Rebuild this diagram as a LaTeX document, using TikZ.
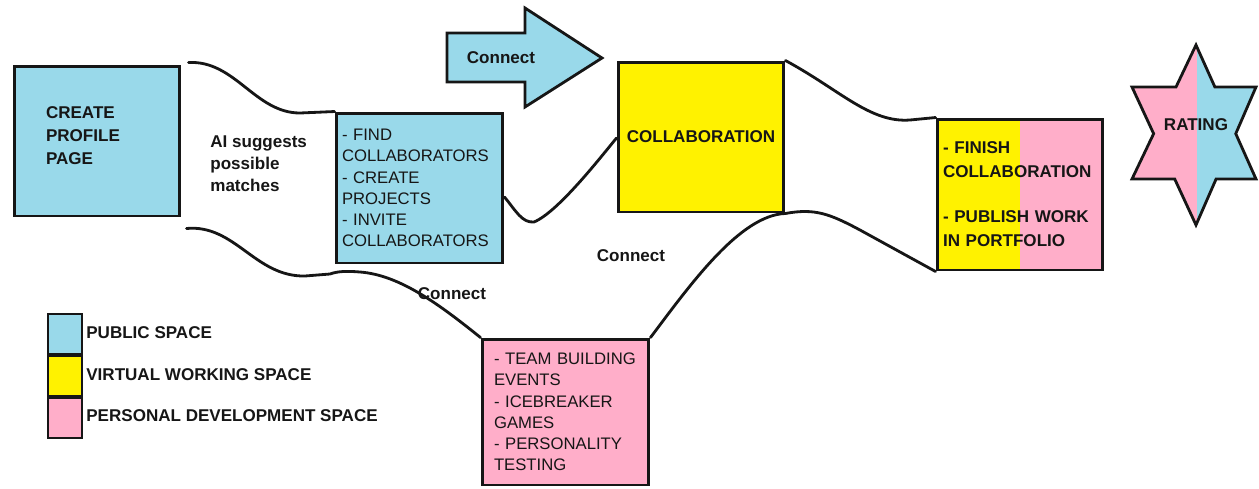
\documentclass[tikz,border=0pt]{standalone}
\usepackage{fontspec}
\setmainfont{Liberation Sans}
\usetikzlibrary{calc}
\definecolor{pubblue}{RGB}{153,217,234}
\definecolor{vwyellow}{RGB}{255,242,0}
\definecolor{pdpink}{RGB}{255,174,201}
\definecolor{ink}{RGB}{22,22,22}

\begin{document}
\begin{tikzpicture}[x=0.02cm, y=-0.02cm,
  every node/.style={text=ink},
  boldtxt/.style={font=\fontsize{9.7}{12.5}\selectfont\bfseries},
  plaintxt/.style={font=\fontsize{9.5}{12.1}\selectfont},
  box/.style={draw=ink, line width=1.7pt, rectangle, inner ysep=0pt,
    align=left, minimum width=3.32cm, minimum height=3cm},
  link/.style={draw=ink, line width=1.6pt, line cap=round, line join=round},
  swatch/.style={draw=ink, line width=0.9pt, minimum width=0.68cm,
    minimum height=0.8cm, inner sep=0pt, anchor=north west},
  lbl/.style={boldtxt, inner sep=0pt},
]
\useasboundingbox (0,0) rectangle (1259,488);

% --- main boxes ---
% the trailing empty line lifts the title a little above the box centre
\node[box, fill=pubblue, font=\fontsize{9.7}{13}\selectfont\bfseries,
      text width=2.04cm, inner xsep=0.64cm] (create) at (97,141)
      {CREATE\\PROFILE\\PAGE\\[-6.5pt]\mbox{}};

\node[box, fill=pubblue, plaintxt, minimum width=3.34cm,
      text width=3.1cm, inner xsep=0.12cm] (find) at (419.5,188)
      {- FIND\\COLLABORATORS\\- CREATE\\PROJECTS\\- INVITE\\COLLABORATORS};

\node[box, fill=vwyellow, boldtxt, align=center] (collab) at (701,137)
      {COLLABORATION};

\node[box, fill=pdpink, font=\fontsize{9.7}{13.6}\selectfont\bfseries,
      minimum height=3.02cm, text width=3.08cm, inner xsep=0.12cm,
      path picture={\fill[vwyellow] (path picture bounding box.north west)
        rectangle ([xshift=1.66cm]path picture bounding box.south west);}]
      (finish) at (1020,194.5)
      {- FINISH\\COLLABORATION\\[12pt]- PUBLISH WORK\\IN PORTFOLIO};

\node[box, fill=pdpink, plaintxt, minimum width=3.34cm, minimum height=2.92cm,
      text width=2.86cm, inner xsep=0.24cm] (team) at (565.5,412)
      {- TEAM BUILDING\\EVENTS\\- ICEBREAKER\\GAMES\\- PERSONALITY\\TESTING};

% --- block arrow ---
\draw[ink, line width=1.6pt, fill=pubblue, line join=miter]
  (447,33) -- (525,33) -- (525,8) -- (602,58) -- (525,107) -- (525,82)
  -- (447,82) -- cycle;
\node[lbl] (arrowlbl) at (501,58) {Connect};

% --- six-pointed rating star ---
\coordinate (sT)  at (1196,45);
\coordinate (sB)  at (1196,225);
\coordinate (sUL) at (1132,87);
\coordinate (sUR) at (1256,87);
\coordinate (sLL) at (1132,179);
\coordinate (sLR) at (1256,179);
\coordinate (i1) at (intersection of sT--sLR and sUL--sUR);
\coordinate (i2) at (intersection of sT--sLR and sB--sUR);
\coordinate (i3) at (intersection of sLL--sLR and sB--sUR);
\coordinate (i4) at (intersection of sLL--sLR and sB--sUL);
\coordinate (i5) at (intersection of sT--sLL and sB--sUL);
\coordinate (i6) at (intersection of sT--sLL and sUL--sUR);
\begin{scope}
  \clip (sT) -- (i1) -- (sUR) -- (i2) -- (sLR) -- (i3) -- (sB) -- (i4)
        -- (sLL) -- (i5) -- (sUL) -- (i6) -- cycle;
  \fill[pdpink] (1120,40) rectangle (1197,230);
  \fill[pubblue] (1197,40) rectangle (1262,230);
\end{scope}
\draw[ink, line width=1.6pt, line join=miter]
  (sT) -- (i1) -- (sUR) -- (i2) -- (sLR) -- (i3) -- (sB) -- (i4)
  -- (sLL) -- (i5) -- (sUL) -- (i6) -- cycle;
\node[lbl] (rating) at (1196,125) {RATING};

% --- connecting curves ---
\draw[link] ($(create.north east)+(7,-2)$)
  .. controls (235,60) and (255,113) .. (300,113) -- (find.north west);
\draw[link] ($(create.south east)+(5,11)$)
  .. controls (235,224) and (255,277) .. (305,276) -- (330,274)
  .. controls (338,271) and (348,271) .. (360,272)
  .. controls (400,275) and (440,305) .. (team.north west);
\draw[link] ($(find.east)+(0,9)$)
  .. controls (516,211) and (522,223) .. (534,222)
  .. controls (558,212) and (600,158) .. ($(collab.west)+(0,1)$);
\draw[link] (team.north east)
  .. controls (690,285) and (740,215) .. (collab.south east);
\draw[link] (collab.south east)
  .. controls (815,208) and (830,214) .. (860,230) -- (finish.south west);
\draw[link] (collab.north east)
  .. controls (840,90) and (870,123) .. (910,120) -- (finish.north west);

% --- free labels ---
\node[lbl, align=left, anchor=west] (ai) at (210,164)
  {AI suggests\\possible\\matches};
\node[lbl] (conn1) at (452,294) {Connect};
\node[lbl] (conn2) at (631,256) {Connect};

% --- legend ---
\node[swatch, fill=pubblue] (lgpub) at (47,313) {};
\node[swatch, fill=vwyellow] (lgvw) at (47,355) {};
\node[swatch, fill=pdpink] (lgpd) at (47,397) {};
\node[lbl, anchor=west] (lgpubtxt) at (86,333) {PUBLIC SPACE};
\node[lbl, anchor=west] (lgvwtxt) at (86,375) {VIRTUAL WORKING SPACE};
\node[lbl, anchor=west] (lgpdtxt) at (86,416) {PERSONAL DEVELOPMENT SPACE};
\end{tikzpicture}
\end{document}
